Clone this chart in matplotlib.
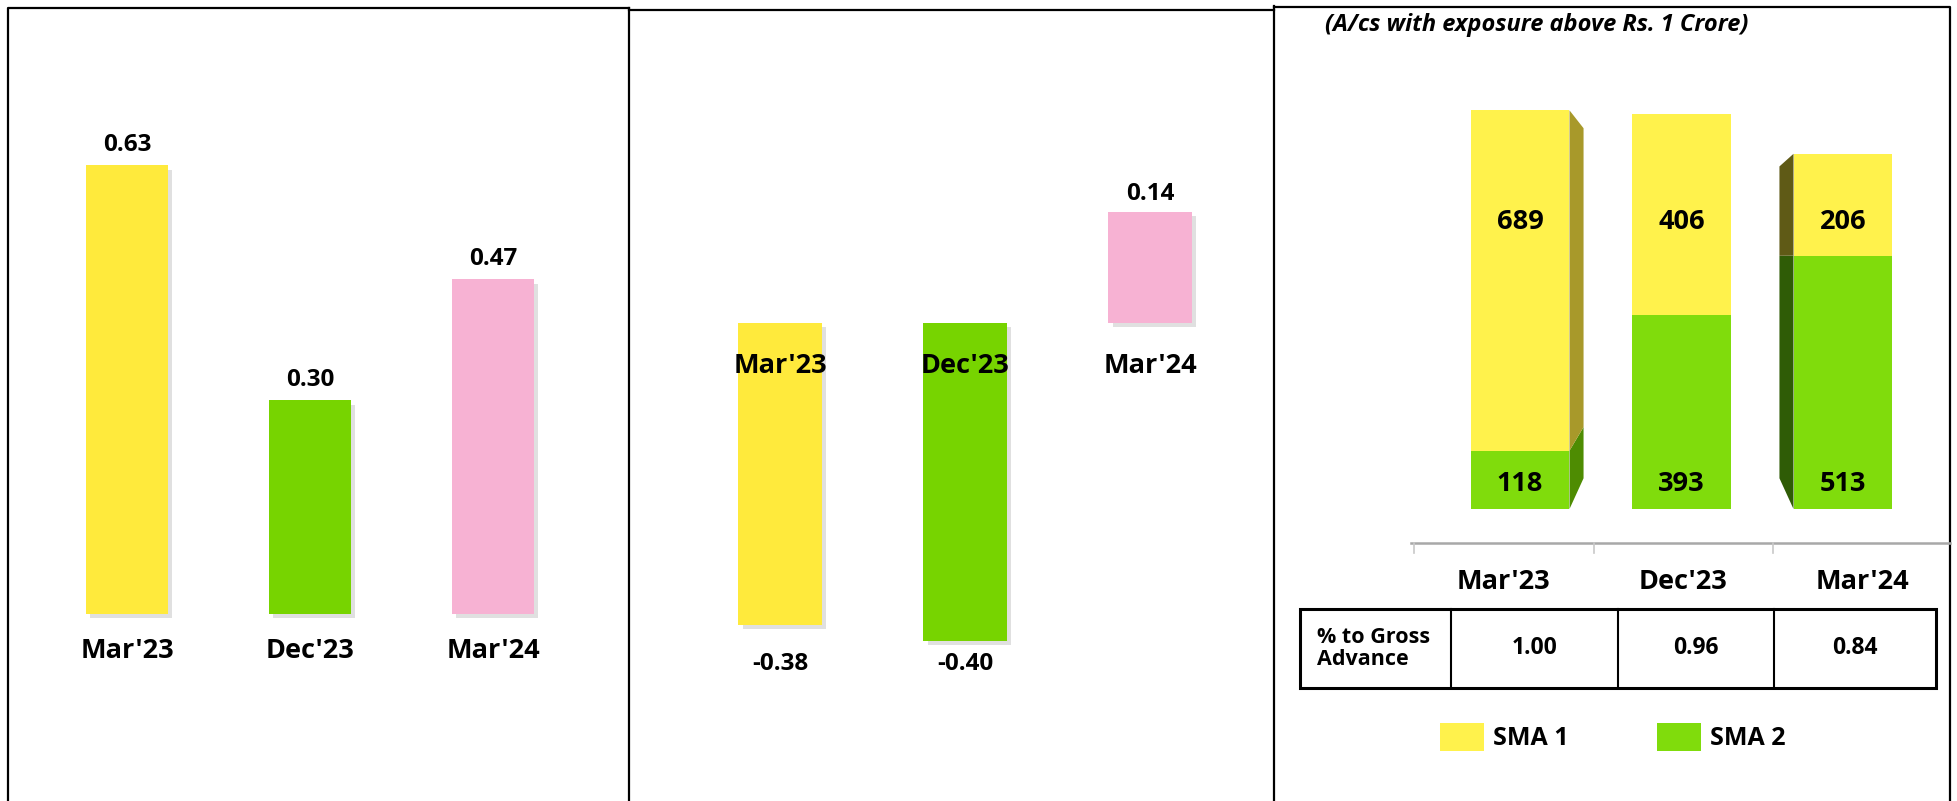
""" Asset quality snapshot: three side-by-side panels
    1. ratio bars, 2. ratio bars with negatives, 3. stacked 3D-style SMA columns + table
"""

import matplotlib
matplotlib.use("Agg")
import matplotlib.pyplot as plt
import matplotlib.patheffects as pe
from matplotlib.patches import Patch, Rectangle, Polygon

# Canvas size in pixels (dpi 100)
W, H = 1957, 801

# Data
periods = ["Mar'23", "Dec'23", "Mar'24"]
left_values = [0.63, 0.30, 0.47]
mid_values = [-0.38, -0.40, 0.14]
sma1 = [689, 406, 206]
sma2 = [118, 393, 513]
pct_gross = [1.00, 0.96, 0.84]
row_label = "% to Gross\nAdvance"
subtitle = "(A/cs with exposure above Rs. 1 Crore)"
series_names = ["SMA 1", "SMA 2"]

# Colours
C_YELLOW = "#FFEA3C"
C_GREEN = "#77D400"
C_PINK = "#F7B2D3"
C3_YELLOW = "#FFF24C"
C3_GREEN = "#80DC0C"
SIDE_YELLOW = {1: "#A8992A", -1: "#5F5A16"}
SIDE_GREEN = {1: "#4E8C02", -1: "#2F5C06"}

plt.rcParams['font.family'] = ['Open Sans', 'DejaVu Sans']
plt.rcParams['font.weight'] = 'bold'

SHADOW = [pe.SimplePatchShadow(offset=(3, -3), shadow_rgbFace='#9A9A9A', alpha=0.3), pe.Normal()]


def px_axes(fig, x0, x1, c0, step, zero_px, unit_px):
    """Axes spanning pixel columns x0..x1 over full height, with category 0 at c0
    and value 0 at zero_px (unit_px pixels per data unit)."""
    ax = fig.add_axes([x0 / W, 0, (x1 - x0) / W, 1])
    ax.set_xlim((x0 - c0) / step, (x1 - c0) / step)
    ax.set_ylim((zero_px - H) / unit_px, zero_px / unit_px)
    ax.axis('off')
    ax.patch.set_alpha(0)
    return ax


fig = plt.figure(figsize=(W / 100, H / 100), dpi=100)

# Panel 1 ----------------------------------------------------------------
ax1 = px_axes(fig, 9, 629, 127, 183, 614, 712)
cols1 = [C_YELLOW, C_GREEN, C_PINK]
x = range(len(periods))
bars = ax1.bar(x, left_values, width=0.45, color=cols1, zorder=2)
for b in bars:
    b.set_path_effects(SHADOW)
for i, v in enumerate(left_values):
    ax1.annotate(f"{v:.2f}", (i, v), xytext=(0, 14.5), textcoords='offset points',
                 ha='center', va='center', fontsize=17.5, weight='bold')
    ax1.annotate(periods[i], (i, 0), xytext=(0, -27), textcoords='offset points',
                 ha='center', va='center', fontsize=19.5, weight='bold')

# Panel 2 ----------------------------------------------------------------
ax2 = px_axes(fig, 629, 1273, 780, 185, 323, 794)
bars = ax2.bar(x, mid_values, width=0.45, color=cols1, zorder=2)
for b in bars:
    b.set_path_effects(SHADOW)
neg_label_y = min(mid_values) - 0.03
for i, v in enumerate(mid_values):
    if v > 0:
        ax2.annotate(f"{v:.2f}", (i, v), xytext=(0, 12.5), textcoords='offset points',
                     ha='center', va='center', fontsize=17.5, weight='bold')
    else:
        ax2.text(i, neg_label_y, f"{v:.2f}", ha='center', va='center', fontsize=17.5, weight='bold')
    ax2.annotate(periods[i], (i, 0), xytext=(0, -31), textcoords='offset points',
                 ha='center', va='center', fontsize=19.5, weight='bold', zorder=5)

# Panel 3 ----------------------------------------------------------------
ax3 = px_axes(fig, 1273, 1950, 1520, 161.5, 509, 0.494)
bw = 0.613
ax3.bar(x, sma2, width=bw, color=C3_GREEN, zorder=3)
ax3.bar(x, sma1, width=bw, bottom=sma2, color=C3_YELLOW, zorder=3)

# fake perspective side faces
depth, k, v0 = 0.087, 0.878, 510
side_dir = [1, 0, -1]
for i in x:
    d = side_dir[i]
    if d == 0:
        continue
    xf = i + d * bw / 2
    xb = xf + d * depth
    tot = sma1[i] + sma2[i]
    for lo, hi, col in [(0, sma2[i], SIDE_GREEN[d]), (sma2[i], tot, SIDE_YELLOW[d])]:
        pts = [(xf, lo), (xf, hi), (xb, v0 + (hi - v0) * k), (xb, v0 + (lo - v0) * k)]
        ax3.add_patch(Polygon(pts, closed=True, fc=col, ec='none', zorder=2))

for i in x:
    ax3.text(i, 50, str(sma2[i]), ha='center', va='center', fontsize=19.5, weight='bold', zorder=5)
    ax3.text(i, 580, str(sma1[i]), ha='center', va='center', fontsize=19.5, weight='bold', zorder=5)

# Canvas overlay in pixel coords for frames, floor axis, table ----------
cv = fig.add_axes([0, 0, 1, 1], zorder=10)
cv.set_xlim(0, W)
cv.set_ylim(H, 0)
cv.axis('off')
cv.patch.set_alpha(0)

lw = 1.6
cv.plot([8, 8, 629], [H, 8, 8], color='black', lw=lw, solid_capstyle='projecting')
cv.plot([629, 629], [8, H], color='black', lw=lw)
cv.plot([629, 1274], [10, 10], color='black', lw=lw)
cv.plot([1274, 1274], [6, H], color='black', lw=lw)
cv.plot([1274, 1950, 1950], [7, 7, H], color='black', lw=lw)

cv.text(1325, 25, subtitle, style='italic', weight='bold', fontsize=17, va='center', ha='left')

# floor axis of the 3D chart
floor_x0, floor_step = 1414, 179.5
cv.plot([1411, 1950], [543, 543], color='#A8A8A8', lw=1.8)
for i in range(len(periods)):
    tx = floor_x0 + floor_step * i
    cv.plot([tx, tx], [543, 553], color='#C8C8C8', lw=1.2)
    cv.text(tx + floor_step / 2, 582, periods[i], ha='center', va='center', fontsize=19.5, weight='bold')

# table
tx0, tx1, ty0, ty1 = 1300, 1936, 609, 688
col_edges = [tx0, 1451, 1617.5, 1774, tx1]
cv.add_patch(Rectangle((tx0, ty0), tx1 - tx0, ty1 - ty0, fill=False, ec='black', lw=2.2))
for ce in col_edges[1:-1]:
    cv.plot([ce, ce], [ty0, ty1], color='black', lw=1.5)
cv.text(tx0 + 17, (ty0 + ty1) / 2, row_label, ha='left', va='center', fontsize=15.5,
        weight='bold', linespacing=1.1)
for i, p in enumerate(pct_gross):
    cx = (col_edges[i + 1] + col_edges[i + 2]) / 2
    cv.text(cx, (ty0 + ty1) / 2, f"{p:.2f}", ha='center', va='center', fontsize=16.5, weight='bold')

# legend
fig.legend(handles=[Patch(fc=C3_YELLOW), Patch(fc=C3_GREEN)], labels=series_names,
           loc='center left', bbox_to_anchor=(1440 / W, 1 - 737 / H), ncol=2, frameon=False,
           prop={'size': 18, 'weight': 'bold'}, handlelength=1.76, handleheight=1.36,
           handletextpad=0.36, columnspacing=3.55, borderpad=0, borderaxespad=0)

fig.savefig("out.png", dpi=100)
